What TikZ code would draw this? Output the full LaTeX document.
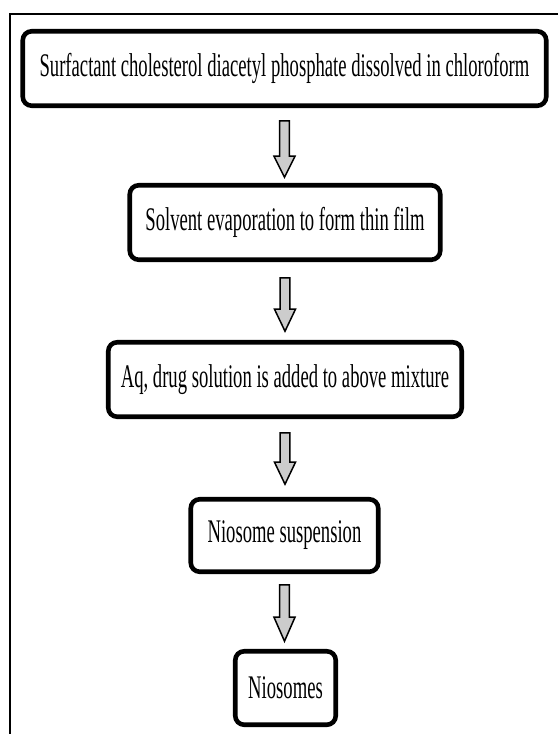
\documentclass[tikz,border=0pt]{standalone}
\usepackage{fontspec}
\setmainfont[FakeStretch=0.565]{Liberation Serif}
\usetikzlibrary{calc}
\tikzset{
  stepbox/.style={draw=black, line width=4.6pt, rounded corners=9pt, fill=white,
    inner sep=0pt, align=center, font=\fontsize{33}{39}\selectfont},
  blockarr/.style={draw=black, line width=1.5pt, fill=gray!40, line join=miter},
  frameline/.style={draw=black, line width=2pt}
}
% #1 from node, #2 to node, #3 gap below #1, #4 gap above #2, #5 head length
\newcommand{\blockarrow}[5]{%
  \draw[blockarr]
    ($(#1.south)+(-4.8,#3)$) -- ($(#1.south)+(4.8,#3)$)
    -- ($(#1.south|-#2.north)+(4.8,-#4-#5)$)
    -- ($(#1.south|-#2.north)+(10.5,-#4-#5)$)
    -- ($(#1.south|-#2.north)+(0,-#4)$)
    -- ($(#1.south|-#2.north)+(-10.5,-#4-#5)$)
    -- ($(#1.south|-#2.north)+(-4.8,-#4-#5)$) -- cycle;}
\begin{document}
\begin{tikzpicture}[x=1pt,y=-1pt]
\useasboundingbox (0,0) rectangle (558,734);
\coordinate (fr1) at (558,14);
\coordinate (fr2) at (10,14);
\coordinate (fr3) at (10,734);
\draw[frameline] (fr1) -- (fr2) -- (fr3);

\node[stepbox, minimum width=523.5pt, minimum height=74.5pt] (b1) at (284.5,68.5)
  {Surfactant cholesterol diacetyl phosphate dissolved in chloroform};
\node[stepbox, minimum width=310.5pt, minimum height=74.5pt] (b2) at (285,222.5)
  {Solvent evaporation to form thin film};
\node[stepbox, minimum width=353.5pt, minimum height=74.5pt] (b3) at (285,379.5)
  {Aq, drug solution is added to above mixture};
\node[stepbox, minimum width=187.5pt, minimum height=72.5pt] (b4) at (284.5,535.5)
  {Niosome suspension};
\node[stepbox, minimum width=100.5pt, minimum height=73.5pt] (b5) at (285.5,688)
  {Niosomes};

\blockarrow{b1}{b2}{12.75}{5.75}{21}
\blockarrow{b2}{b3}{15.75}{8.75}{22}
\blockarrow{b3}{b4}{13.75}{12.75}{22}
\blockarrow{b4}{b5}{10.75}{7.75}{24}
\end{tikzpicture}
\end{document}
